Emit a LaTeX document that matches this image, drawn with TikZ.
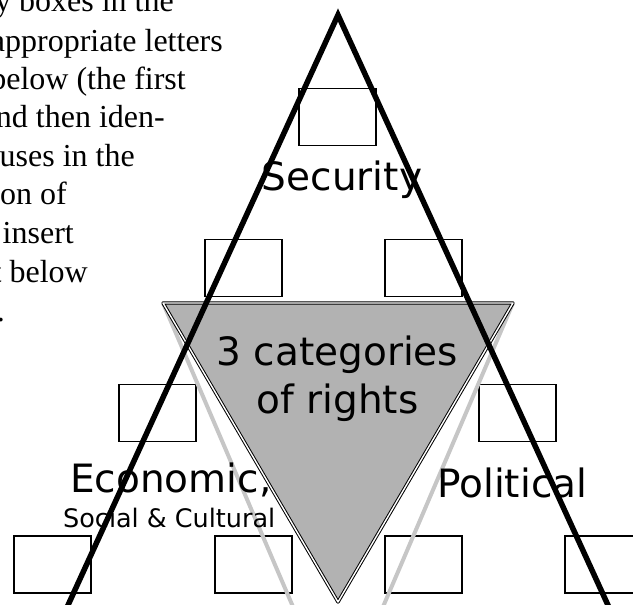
\documentclass[tikz,border=0pt]{standalone}
\usepackage{fontspec}
\setmainfont{Liberation Serif}
\newfontfamily\handfont{DejaVu Sans}
\usetikzlibrary{positioning}

\begin{document}
\begin{tikzpicture}[x=1pt, y=-1pt,
    ansbox/.style={draw=black, line width=1.1pt, minimum width=77pt, minimum height=57pt, inner sep=0pt},
    prose/.style={font=\fontsize{32}{38}\selectfont, inner sep=0pt, anchor=base east},
    catlabel/.style={font=\handfont\fontsize{39}{46}\selectfont, inner sep=0pt, anchor=base},
    sublabel/.style={font=\handfont\fontsize{25.5}{30}\selectfont, inner sep=0pt, anchor=base west}]
      \colorlet{shade}{gray!60} \colorlet{ghost}{gray!45}
      \useasboundingbox (0,0) rectangle (633,605);
      \clip (0,0) rectangle (633,605);

      \foreach \y/\r/\t in {12/174/{y boxes in the}, 51/223/{appropriate letters}, 89/186/{below (the first},
          127/165/{nd then iden-}, 166/135/{uses in the}, 204/67/{on of}, 243/74/{insert},
          282/88/{t below}, 321/5/{.}} {
        \node[prose] (line\y) at (\r, \y) {\t};
      }

      \node[ansbox] (top) at (337.5, 117) {};
      \node[ansbox] (midL) at (243.5, 268) {};
      \node[ansbox] (midR) at (423.5, 268) {};
      \node[ansbox] (lowL) at (157.5, 413) {};
      \node[ansbox] (lowR) at (517.5, 413) {};
      \foreach \x/\i in {52.5/A, 253.5/B, 423.5/C, 603.5/D} {
        \node[ansbox] (bot\i) at (\x, 564.5) {};
      }

      \coordinate (tl) at (163, 303);
      \coordinate (tr) at (513, 303);
      \coordinate (tip) at (338, 602);
      \draw[ghost, line width=4pt, line join=round] (tl) -- (338, 712) -- (tr);
      \draw[fill=shade, line width=1pt, double=white, double distance=1.4pt, line join=round] (tl) -- (tr) -- (tip) -- cycle;

      \coordinate (apex) at (338, 15);
      \draw[line width=5.5pt, line join=miter] (47.5, 650) -- (apex) -- (628.5, 650);

      \node[catlabel] (sec) at (342, 190) {Security};
      \node[catlabel] (cat) at (337.5, 365) {3 categories};
      \node[catlabel] (rig) at (337.5, 413) {of rights};
      \node[catlabel, anchor=base west] (eco) at (70, 492) {Economic,};
      \node[sublabel] (soc) at (63, 527) {Social \& Cultural};
      \node[catlabel, anchor=base west] (pol) at (437, 497) {Political};
    \end{tikzpicture}
\end{document}
